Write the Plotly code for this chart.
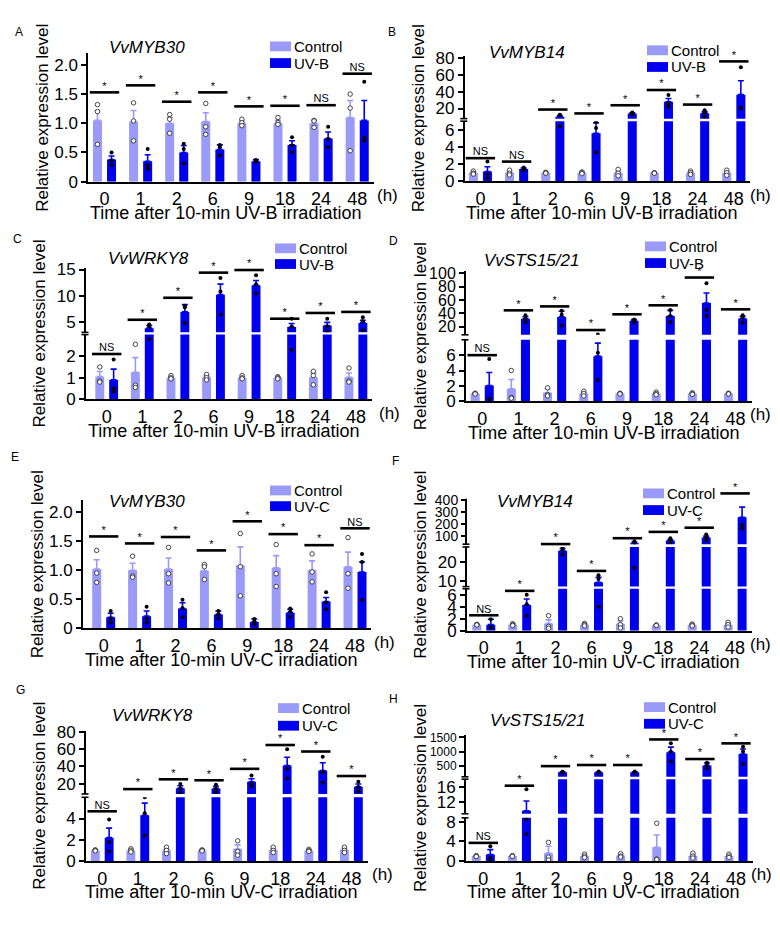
import plotly.graph_objects as go

PAGE_W, PAGE_H = 780, 929
OFF = 8  # default body margin of the html page
FIG_W, FIG_H = PAGE_W - 2 * OFF, PAGE_H - 2 * OFF
FONT = "Liberation Sans, Arial, Helvetica, sans-serif"
CTRL_COLOR = "#9a9af8"
UV_COLOR = "#0000ee"

times = ["0", "1", "2", "6", "9", "18", "24", "48"]

# ---------------- data ----------------
A_ctrl = [1.05, 1.03, 1.00, 1.03, 1.00, 1.00, 1.00, 1.10]
A_ctrl_sem = [0.17, 0.19, 0.10, 0.15, 0.04, 0.05, 0.05, 0.29]
A_uv = [0.38, 0.35, 0.50, 0.55, 0.35, 0.63, 0.74, 1.05]
A_uv_sem = [0.06, 0.11, 0.12, 0.08, 0.03, 0.07, 0.11, 0.34]
A_ctrl_pts = [[1.32, 1.20, 0.64], [1.35, 1.04, 0.70], [1.15, 1.07, 0.83], [1.34, 0.94, 0.81],
              [1.07, 1.01, 0.96], [1.10, 1.01, 0.98], [1.05, 1.04, 0.93], [1.50, 1.26, 0.53]]
A_uv_pts = [[0.50, 0.36, 0.28], [0.56, 0.28, 0.22], [0.65, 0.56, 0.31], [0.63, 0.59, 0.45],
            [0.37, 0.34, 0.34], [0.76, 0.62, 0.51], [0.94, 0.73, 0.59], [1.71, 0.76, 0.70]]
A_sig_y = [1.53, 1.65, 1.37, 1.53, 1.29, 1.30, 1.31, 1.85]
A_sig = ["*", "*", "*", "*", "*", "*", "NS", "NS"]

B_ctrl = [1.0, 1.0, 1.0, 1.0, 1.0, 1.0, 1.0, 1.0]
B_ctrl_sem = [0.15, 0.15, 0.03, 0.06, 0.2, 0.02, 0.1, 0.15]
B_uv = [1.15, 1.45, 10.3, 5.6, 14.2, 28.0, 14.5, 36.5]
B_uv_sem = [0.55, 0.1, 1.5, 1.2, 0.6, 4.0, 1.8, 16.5]
B_ctrl_pts = [[1.2, 0.95, 0.85], [1.3, 0.95, 0.75], [1.05, 1.0, 0.95], [1.1, 1.0, 0.9],
              [1.4, 0.95, 0.65], [1.0, 1.0, 0.95], [1.2, 1.0, 0.8], [1.3, 1.0, 0.7]]
B_uv_pts = [[2.3, 0.85, 0.35], [1.6, 1.45, 1.3], [12.5, 11.9, 6.4], [6.9, 6.2, 3.4],
            [15.2, 14.5, 13.0], [36, 26, 22], [18, 15, 10.5], [69, 21, 20]]
B_sig_y = [2.7, 2.3, 18.8, 14.2, 23.9, 42, 24.7, 76]
B_sig = ["NS", "NS", "*", "*", "*", "*", "*", "*"]

C_ctrl = [1.05, 1.25, 1.0, 1.02, 1.0, 1.0, 1.02, 1.02]
C_ctrl_sem = [0.24, 0.68, 0.05, 0.08, 0.05, 0.03, 0.2, 0.2]
C_uv = [0.9, 3.8, 6.9, 10.2, 12.0, 4.0, 4.3, 4.8]
C_uv_sem = [0.5, 0.5, 1.4, 2.0, 0.9, 0.7, 0.6, 0.5]
C_ctrl_pts = [[1.5, 0.85, 0.8], [2.55, 0.65, 0.55], [1.1, 1.0, 0.95], [1.15, 1.0, 0.9],
              [1.1, 1.0, 0.95], [1.05, 1.0, 0.95], [1.3, 1.1, 0.67], [1.45, 0.85, 0.8]]
C_uv_pts = [[1.85, 0.5, 0.35], [4.5, 4.1, 2.8], [8.1, 7.8, 4.8], [13.4, 10.8, 6.4],
            [13.9, 12.2, 10.4], [5.6, 4.1, 2.3], [5.6, 4.1, 3.2], [5.9, 5.1, 3.4]]
C_sig_y = [2.1, 5.4, 9.6, 14.4, 14.9, 5.6, 6.7, 6.9]
C_sig = ["NS", "*", "*", "*", "*", "*", "*", "*"]

D_ctrl = [1.0, 1.63, 1.1, 1.0, 1.0, 1.0, 1.0, 1.0]
D_ctrl_sem = [0.03, 1.2, 0.5, 0.2, 0.03, 0.1, 0.06, 0.03]
D_uv = [2.05, 32.0, 34.7, 5.87, 28.8, 36.0, 55.3, 32.3]
D_uv_sem = [1.7, 3.0, 8.5, 1.7, 2.0, 8.5, 15.0, 3.3]
D_ctrl_pts = [[1.05, 1.0, 0.95], [4.0, 0.5, 0.4], [1.75, 0.85, 0.7], [1.3, 1.0, 0.7],
              [1.05, 1.0, 0.95], [1.2, 1.0, 0.85], [1.1, 1.0, 0.9], [1.05, 1.0, 0.95]]
D_uv_pts = [[5.5, 0.35, 0.3], [37, 32, 27], [44, 38, 22], [8.5, 6.3, 2.8],
            [31, 29, 26.5], [45, 36, 27], [85, 45, 36], [37, 34, 26]]
D_sig_y = [6.0, 44.5, 50.4, 15.1, 38.6, 52, 93.5, 46]
D_sig = ["NS", "*", "*", "*", "*", "*", "*", "*"]

E_ctrl = [1.02, 1.0, 1.02, 0.99, 1.08, 1.04, 1.0, 1.06]
E_ctrl_sem = [0.16, 0.12, 0.19, 0.09, 0.32, 0.21, 0.16, 0.25]
E_uv = [0.19, 0.21, 0.34, 0.24, 0.11, 0.27, 0.46, 0.97]
E_uv_sem = [0.07, 0.09, 0.1, 0.06, 0.05, 0.06, 0.07, 0.17]
E_ctrl_pts = [[1.34, 0.95, 0.79], [1.24, 0.9, 0.88], [1.39, 0.94, 0.78], [1.1, 1.06, 0.84],
              [1.63, 1.06, 0.56], [1.44, 0.94, 0.72], [1.28, 0.97, 0.8], [1.56, 0.94, 0.69]]
E_uv_pts = [[0.3, 0.17, 0.1], [0.37, 0.17, 0.1], [0.49, 0.35, 0.19], [0.3, 0.24, 0.17],
            [0.16, 0.12, 0.07], [0.34, 0.29, 0.2], [0.62, 0.44, 0.33], [1.28, 1.14, 0.49]]
E_sig_y = [1.58, 1.46, 1.57, 1.34, 1.84, 1.62, 1.43, 1.72]
E_sig = ["*", "*", "*", "*", "*", "*", "*", "NS"]

F_ctrl = [1.0, 1.0, 1.2, 1.0, 1.15, 0.9, 0.95, 1.0]
F_ctrl_sem = [0.05, 0.1, 0.6, 0.1, 0.45, 0.05, 0.1, 0.2]
F_uv = [1.0, 4.3, 26.0, 9.3, 37.0, 60.0, 86.0, 255.0]
F_uv_sem = [0.9, 1.0, 1.2, 2.6, 11.0, 8.0, 12.0, 85.0]
F_ctrl_pts = [[1.05, 1.0, 0.95], [1.15, 1.0, 0.85], [2.5, 0.7, 0.4], [1.2, 1.0, 0.8],
              [2.0, 1.0, 0.45], [0.95, 0.9, 0.85], [1.1, 0.95, 0.8], [1.4, 1.0, 0.6]]
F_uv_pts = [[1.9, 0.6, 0.5], [6.0, 4.4, 2.5], [27.5, 26.5, 24.0], [13.0, 11.0, 4.0],
            [54, 40, 17], [80, 55, 45], [110, 85, 63], [414, 190, 161]]
F_sig_y = [2.57, 6.65, 31, 15.3, 80, 133, 168, 455]
F_sig = ["NS", "*", "*", "*", "*", "*", "*", "*"]

G_ctrl = [1.0, 1.0, 1.0, 1.0, 1.12, 1.03, 1.0, 1.03]
G_ctrl_sem = [0.03, 0.09, 0.13, 0.03, 0.4, 0.15, 0.05, 0.15]
G_uv = [2.2, 4.3, 14.5, 14.3, 22.0, 40.8, 35.1, 16.3]
G_uv_sem = [0.9, 1.15, 3.0, 2.5, 3.5, 9.5, 9.0, 3.2]
G_ctrl_pts = [[1.05, 1.0, 0.95], [1.15, 1.0, 0.85], [1.3, 1.0, 0.7], [1.05, 1.0, 0.95],
              [1.9, 0.9, 0.55], [1.3, 1.0, 0.8], [1.1, 1.0, 0.9], [1.3, 1.0, 0.8]]
G_uv_pts = [[3.9, 1.8, 0.9], [6.0, 4.5, 2.4], [19.5, 14.5, 9.5], [18.5, 14.0, 10.4],
            [29.4, 19.5, 17.1], [59.6, 37, 25.8], [51, 33, 21.3], [22, 16, 11]]
G_sig_y = [4.68, 13.6, 24.9, 23.8, 37, 64.5, 57, 28.7]
G_sig = ["NS", "*", "*", "*", "*", "*", "*", "*"]

H_ctrl = [1.0, 1.0, 1.6, 1.03, 1.1, 2.8, 1.07, 1.03]
H_ctrl_sem = [0.05, 0.03, 1.4, 0.2, 0.25, 2.5, 0.3, 0.2]
H_uv = [1.33, 9.8, 260, 265, 262, 977, 500, 910]
H_uv_sem = [1.0, 2.5, 15, 12, 14, 180, 90, 180]
H_ctrl_pts = [[1.1, 1.0, 0.9], [1.1, 1.0, 0.95], [3.8, 0.8, 0.2], [1.4, 1.0, 0.7],
              [1.5, 1.0, 0.8], [7.7, 0.4, 0.3], [1.6, 1.0, 0.6], [1.4, 1.0, 0.7]]
H_uv_pts = [[3.0, 0.6, 0.4], [15.4, 8.5, 5.5], [280, 262, 238], [285, 262, 248],
            [285, 258, 243], [1290, 990, 650], [600, 500, 400], [1170, 1000, 560]]
H_sig_y = [3.7, 16.3, 480, 520, 520, 1430, 733, 1290]
H_sig = ["NS", "*", "*", "*", "*", "*", "*", "*"]

genes = {"A": "VvMYB30", "B": "VvMYB14", "C": "VvWRKY8", "D": "VvSTS15/21",
         "E": "VvMYB30", "F": "VvMYB14", "G": "VvWRKY8", "H": "VvSTS15/21"}
treatments = {"A": "UV-B", "B": "UV-B", "C": "UV-B", "D": "UV-B",
              "E": "UV-C", "F": "UV-C", "G": "UV-C", "H": "UV-C"}

data = {
    "A": (A_ctrl, A_ctrl_sem, A_uv, A_uv_sem, A_ctrl_pts, A_uv_pts, A_sig_y, A_sig),
    "B": (B_ctrl, B_ctrl_sem, B_uv, B_uv_sem, B_ctrl_pts, B_uv_pts, B_sig_y, B_sig),
    "C": (C_ctrl, C_ctrl_sem, C_uv, C_uv_sem, C_ctrl_pts, C_uv_pts, C_sig_y, C_sig),
    "D": (D_ctrl, D_ctrl_sem, D_uv, D_uv_sem, D_ctrl_pts, D_uv_pts, D_sig_y, D_sig),
    "E": (E_ctrl, E_ctrl_sem, E_uv, E_uv_sem, E_ctrl_pts, E_uv_pts, E_sig_y, E_sig),
    "F": (F_ctrl, F_ctrl_sem, F_uv, F_uv_sem, F_ctrl_pts, F_uv_pts, F_sig_y, F_sig),
    "G": (G_ctrl, G_ctrl_sem, G_uv, G_uv_sem, G_ctrl_pts, G_uv_pts, G_sig_y, G_sig),
    "H": (H_ctrl, H_ctrl_sem, H_uv, H_uv_sem, H_ctrl_pts, H_uv_pts, H_sig_y, H_sig),
}

# ---------------- layout specs (page-pixel geometry, axis segments) ----------------
# segment: (pixel bottom, pixel top, range lo, range hi, tickvals, ticktext, tickfont, ext)
# ext: optional extended range top (room for annotations above the drawn axis line)
spec = {
    "A": dict(L=88.3, c0=104.5, pg=36.1, zero=177, hx=375,
              segs=[(177, 46, 0, 2.2, [0, 0.5, 1, 1.5, 2], ["0", "0.5", "1.0", "1.5", "2.0"], 17, None)],
              letter=(19, 24), gene=(147, 40), leg=(270, 39, 56)),
    "B": dict(L=464.8, c0=480.4, pg=36.2, zero=176.7, hx=748,
              segs=[(176.7, 115.3, 0, 7, [0, 2, 4, 6], None, 17, None),
                    (112.7, 48.3, 8, 83, [20, 40, 60, 80], None, 17, None)],
              letter=(392, 24), gene=(527, 45), leg=(647, 43, 60)),
    "C": dict(L=86, c0=106.7, pg=35.6, zero=399, hx=377,
              segs=[(399, 333, 0, 3, [0, 1, 2], None, 17, None),
                    (330.7, 265, 3, 15.3, [5, 10, 15], None, 17, None)],
              letter=(17, 235), gene=(148, 255), leg=(275, 245, 261)),
    "D": dict(L=466, c0=482.2, pg=36.2, zero=401, hx=748,
              segs=[(401, 338.3, 0, 8, [0, 2, 4, 6], None, 17, None),
                    (333.2, 268.3, 8, 103, [20, 40, 60, 80, 100], None, 16, None)],
              letter=(393, 238), gene=(531, 257), leg=(645, 243, 260)),
    "E": dict(L=83, c0=103.7, pg=35.9, zero=632.7, hx=372,
              segs=[(632.7, 502.1, 0, 2.2, [0, 0.5, 1, 1.5, 2], ["0", "0.5", "1.0", "1.5", "2.0"], 17, None)],
              letter=(15, 458), gene=(147, 503), leg=(270, 492, 508)),
    "F": dict(L=467, c0=483.8, pg=35.9, zero=635, hx=748,
              segs=[(635, 592.3, 0, 7, [0, 2, 4, 6], None, 17, None),
                    (590.1, 549.6, 7, 28, [10, 20], None, 17, None),
                    (546.8, 500.5, 30, 410, [100, 200, 300, 400], None, 14, 480)],
              letter=(395, 462), gene=(535, 503), leg=(643, 495, 512)),
    "G": dict(L=86, c0=102.2, pg=35.6, zero=870, hx=370,
              segs=[(870, 805, 0, 6, [0, 2, 4], None, 17, None),
                    (801.6, 737.1, 8, 81, [20, 40, 60, 80], None, 17, None)],
              letter=(20, 696), gene=(152, 722), leg=(278, 714, 732)),
    "H": dict(L=466, c0=483.3, pg=36.1, zero=870, hx=749,
              segs=[(870, 826, 0, 8.8, [0, 4, 8], None, 17, None),
                    (821.8, 786.5, 9, 18, [12, 16], None, 17, None),
                    (784.1, 741.7, 100, 1580, [500, 1000, 1500], None, 12, None)],
              letter=(393, 705), gene=(537, 727), leg=(644, 713, 730)),
}


def px_x(p):
    return (p - OFF) / FIG_W


def px_y(p):
    return 1 - (p - OFF) / FIG_H


fig = go.Figure()
layout_axes = {}
shapes = []
annotations = []
ax_i = 0
idx = list(range(len(times)))
BAR_W = 0.25
CTRL_OFF = -0.32
UV_OFF = 0.07

for key in ["A", "B", "C", "D", "E", "F", "G", "H"]:
    ctrl, ctrl_sem, uv, uv_sem, ctrl_pts, uv_pts, sig_y, sig = data[key]
    s = spec[key]
    L, c0, pg = s["L"], s["c0"], s["pg"]
    R = c0 + 7 * pg + 0.32 * pg + 5
    xr = [(L - c0) / pg, (R - c0) / pg]
    segs = s["segs"]
    nseg = len(segs)
    for si, (pb, pt, lo, hi, tv, tt, tfs, ext) in enumerate(segs):
        ax_i += 1
        xn = "x" if ax_i == 1 else f"x{ax_i}"
        yn = "y" if ax_i == 1 else f"y{ax_i}"
        xa = "xaxis" if ax_i == 1 else f"xaxis{ax_i}"
        ya = "yaxis" if ax_i == 1 else f"yaxis{ax_i}"
        is_bottom = si == 0
        is_top = si == nseg - 1
        rtop = hi if ext is None else ext
        ptop = pt if ext is None else pb - (ext - lo) / (hi - lo) * (pb - pt)
        layout_axes[xa] = dict(domain=[px_x(L), px_x(R)], range=xr, anchor=yn,
                               visible=is_bottom, showline=True, linewidth=2,
                               linecolor="black", ticks="", ticklen=0, tickvals=idx,
                               ticktext=times, tickfont=dict(size=18),
                               showgrid=False, zeroline=False)
        layout_axes[ya] = dict(domain=[px_y(pb), px_y(ptop)], range=[lo, rtop], anchor=xn,
                               showline=ext is None, linewidth=2, linecolor="black",
                               ticks="outside", ticklen=5, tickwidth=2, tickcolor="black",
                               tickvals=tv, ticktext=tt if tt else [str(v) for v in tv],
                               tickfont=dict(size=tfs), showgrid=False, zeroline=False)
        if ext is not None:
            # axis line only up to the nominal top of the segment
            shapes.append(dict(type="line", xref="paper", yref=yn,
                               x0=px_x(L - 1), x1=px_x(L - 1), y0=lo, y1=hi,
                               line=dict(color="black", width=2)))
        # bars
        fig.add_trace(go.Bar(x=idx, y=ctrl, offset=CTRL_OFF, width=BAR_W,
                             marker=dict(color=CTRL_COLOR, line=dict(width=0)),
                             xaxis=xn, yaxis=yn, showlegend=False, hoverinfo="skip"))
        fig.add_trace(go.Bar(x=idx, y=uv, offset=UV_OFF, width=BAR_W,
                             marker=dict(color=UV_COLOR, line=dict(width=0)),
                             xaxis=xn, yaxis=yn, showlegend=False, hoverinfo="skip"))
        # error bars (upper only) drawn in the segment containing the mean
        for vals, sems, off, col in [(ctrl, ctrl_sem, CTRL_OFF, CTRL_COLOR),
                                     (uv, uv_sem, UV_OFF, UV_COLOR)]:
            sel = [i for i in idx if lo <= vals[i] <= hi]
            if sel:
                fig.add_trace(go.Scatter(
                    x=[i + off + BAR_W / 2 for i in sel], y=[vals[i] for i in sel],
                    mode="markers", marker=dict(size=1, color=col),
                    error_y=dict(type="data", symmetric=False,
                                 array=[sems[i] for i in sel], arrayminus=[0] * len(sel),
                                 color=col, thickness=1.6, width=3),
                    xaxis=xn, yaxis=yn, showlegend=False, hoverinfo="skip"))
        # replicate dots
        for pts, off, filled in [(ctrl_pts, CTRL_OFF, False), (uv_pts, UV_OFF, True)]:
            xs, ys = [], []
            for i in idx:
                for v in pts[i]:
                    if lo <= v <= hi:
                        xs.append(i + off + BAR_W / 2)
                        ys.append(v)
            if xs:
                if filled:
                    mk = dict(size=4, color="black", line=dict(width=0))
                else:
                    mk = dict(size=4.5, color="white", line=dict(width=0.9, color="#333333"))
                fig.add_trace(go.Scatter(x=xs, y=ys, mode="markers", marker=mk,
                                         xaxis=xn, yaxis=yn, showlegend=False,
                                         hoverinfo="skip"))
        # significance bars
        sel = [i for i in idx if (lo <= sig_y[i] <= hi) or (is_top and sig_y[i] > hi)]
        if sel:
            fig.add_trace(go.Scatter(
                x=sel, y=[sig_y[i] for i in sel], mode="markers",
                marker=dict(symbol="line-ew", size=21, color="black",
                            line=dict(width=2.6, color="black")),
                cliponaxis=False, xaxis=xn, yaxis=yn, showlegend=False, hoverinfo="skip"))
            fig.add_trace(go.Scatter(
                x=sel, y=[sig_y[i] for i in sel], mode="text",
                text=[sig[i] for i in sel], textposition="top center",
                textfont=dict(size=11, color="black", family=FONT),
                cliponaxis=False, xaxis=xn, yaxis=yn, showlegend=False, hoverinfo="skip"))
        # axis break marks
        if not is_top:
            nxt_pb = segs[si + 1][0]
            for yy in (pt, nxt_pb):
                shapes.append(dict(type="line", xref="paper", yref="paper",
                                   x0=px_x(L - 4.5), x1=px_x(L + 2.5),
                                   y0=px_y(yy), y1=px_y(yy),
                                   line=dict(color="black", width=1.6)))

    zero = s["zero"]
    top_px = segs[-1][1]
    # panel letter
    lx, ly = s["letter"]
    annotations.append(dict(text=key, x=px_x(lx), y=px_y(ly), xref="paper", yref="paper",
                            showarrow=False, xanchor="center", yanchor="middle",
                            font=dict(size=12)))
    # gene title
    gx, gy = s["gene"]
    annotations.append(dict(text=f"<i>{genes[key]}</i>", x=px_x(gx), y=px_y(gy),
                            xref="paper", yref="paper", showarrow=False,
                            xanchor="center", yanchor="middle", font=dict(size=17)))
    # legend
    sx, cy1, cy2 = s["leg"]
    for cy, col, lab in [(cy1, CTRL_COLOR, "Control"), (cy2, UV_COLOR, treatments[key])]:
        shapes.append(dict(type="rect", xref="paper", yref="paper",
                           x0=px_x(sx), x1=px_x(sx + 21), y0=px_y(cy + 5), y1=px_y(cy - 5),
                           fillcolor=col, line=dict(width=0)))
        annotations.append(dict(text=lab, x=px_x(sx + 22), y=px_y(cy), xref="paper",
                                yref="paper", showarrow=False, xanchor="left",
                                yanchor="middle", font=dict(size=15)))
    # (h)
    annotations.append(dict(text="(h)", x=px_x(s["hx"]), y=px_y(zero + 14), xref="paper",
                            yref="paper", showarrow=False, xanchor="left", yanchor="middle",
                            font=dict(size=17)))
    # x title
    annotations.append(dict(text=f"Time after 10-min {treatments[key]} irradiation",
                            x=px_x((L + R) / 2 - 6), y=px_y(zero + 32), xref="paper",
                            yref="paper", showarrow=False, xanchor="center",
                            yanchor="middle", font=dict(size=18)))
    # y title
    annotations.append(dict(text="Relative expression level", x=px_x(L - 46),
                            y=px_y((zero + top_px) / 2), xref="paper", yref="paper",
                            showarrow=False, xanchor="center", yanchor="middle",
                            textangle=-90, font=dict(size=17)))

fig.update_layout(
    width=FIG_W, height=FIG_H, autosize=False,
    margin=dict(l=0, r=0, t=0, b=0, pad=0),
    paper_bgcolor="white", plot_bgcolor="white",
    font=dict(family=FONT, color="black"),
    barmode="overlay", showlegend=False,
    shapes=shapes, annotations=annotations,
    **layout_axes,
)

fig.write_html("out.html")
